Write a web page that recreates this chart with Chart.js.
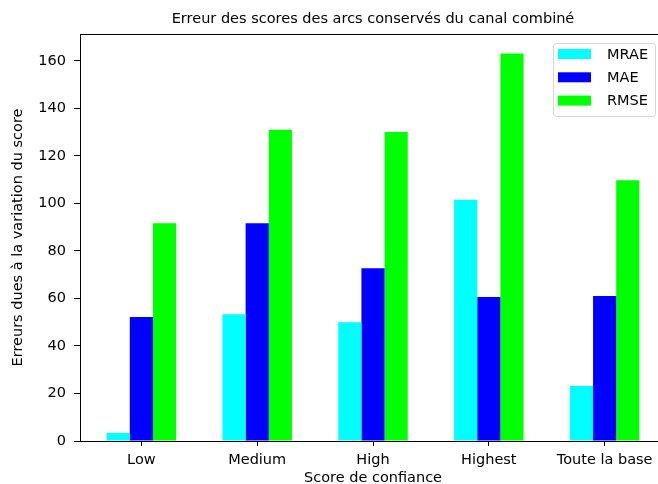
<!DOCTYPE html>
<html>
<head>
<meta charset="utf-8">
<script src="https://cdn.jsdelivr.net/npm/chart.js@4"></script>
<style>
  html, body { margin: 0; padding: 0; background: #fff; overflow: hidden; }
  #wrap { width: 658px; height: 484px; overflow: hidden; }
</style>
</head>
<body>
<div id="wrap"><canvas id="chart" width="680" height="484"></canvas></div>
<script>
const categories = ['Low', 'Medium', 'High', 'Highest', 'Toute la base'];
const mrae = [3.4, 53.3, 50.0, 101.5, 23.1];
const mae = [52.2, 91.7, 72.7, 60.6, 61.0];
const rmse = [91.7, 131.0, 130.1, 163.1, 109.7];
const yTicks = [0, 20, 40, 60, 80, 100, 120, 140, 160];

Chart.defaults.font.family = 'DejaVu Sans';
Chart.defaults.font.size = 14.5;
Chart.defaults.color = '#000';

const toPoints = arr => arr.map((v, i) => ({ x: i, y: v }));

// matplotlib-like frame (top spine) and legend box in the upper right
const framePlugin = {
  id: 'frame',
  afterDraw(chart) {
    const c = chart.ctx;
    const a = chart.chartArea;
    c.save();
    c.strokeStyle = '#000';
    c.lineWidth = 1;
    c.beginPath();
    c.moveTo(a.left, Math.round(a.top) + 0.5);
    c.lineTo(a.right, Math.round(a.top) + 0.5);
    c.stroke();

    const ds = chart.data.datasets;
    const bx = 553, by = a.top + 9, bw = 102, bh = 73;
    c.beginPath();
    c.roundRect(bx + 0.5, by + 0.5, bw, bh, 3);
    c.fillStyle = 'rgba(255,255,255,0.8)';
    c.fill();
    c.strokeStyle = '#d6d6d6';
    c.stroke();
    c.font = '14.5px "DejaVu Sans"';
    c.textBaseline = 'middle';
    ds.forEach((d, i) => {
      const cy = by + 11 + i * 23.3;
      c.fillStyle = d.backgroundColor;
      c.fillRect(bx + 5, cy - 5, 33, 10);
      c.fillStyle = '#000';
      c.fillText(d.label, bx + 54, cy + 1);
    });
    c.restore();
  }
};

new Chart(document.getElementById('chart'), {
  type: 'bar',
  data: {
    datasets: [
      { label: 'MRAE', data: toPoints(mrae), backgroundColor: '#00ffff' },
      { label: 'MAE', data: toPoints(mae), backgroundColor: '#0000ff' },
      { label: 'RMSE', data: toPoints(rmse), backgroundColor: '#00ff00' }
    ]
  },
  options: {
    responsive: false,
    animation: false,
    layout: { padding: { left: 0, right: 14, top: 0, bottom: 0 } },
    datasets: { bar: { categoryPercentage: 0.6, barPercentage: 1.0, borderWidth: 0 } },
    plugins: {
      legend: { display: false },
      tooltip: { enabled: false },
      title: {
        display: true,
        text: 'Erreur des scores des arcs conservés du canal combiné',
        fullSize: false,
        font: { size: 14.5, weight: 'normal', lineHeight: 1.2 },
        color: '#000',
        padding: { top: 11, bottom: 5.6 }
      }
    },
    scales: {
      x: {
        type: 'linear',
        min: -0.53,
        max: 4.53,
        offset: false,
        grid: { offset: false, drawOnChartArea: false, drawTicks: true, tickLength: 5, color: '#000' },
        border: { color: '#000' },
        ticks: { padding: 6, maxRotation: 0, callback: v => categories[v] },
        afterBuildTicks(scale) { scale.ticks = categories.map((c, i) => ({ value: i })); },
        title: { display: true, text: 'Score de confiance', padding: { top: 0, bottom: 0 }, font: { lineHeight: 0.8 } },
        afterFit(scale) { scale.height = 43; }
      },
      y: {
        min: 0,
        max: 171.3,
        grid: { drawOnChartArea: false, drawTicks: true, tickLength: 6, color: '#000' },
        border: { color: '#000' },
        ticks: { stepSize: 20, includeBounds: false, padding: 8 },
        afterBuildTicks(scale) { scale.ticks = yTicks.map(v => ({ value: v })); },
        title: { display: true, text: 'Erreurs dues à la variation du score', padding: { top: 10, bottom: 0 } },
        afterFit(scale) { scale.width = 80; }
      }
    }
  },
  plugins: [framePlugin]
});
</script>
</body>
</html>
